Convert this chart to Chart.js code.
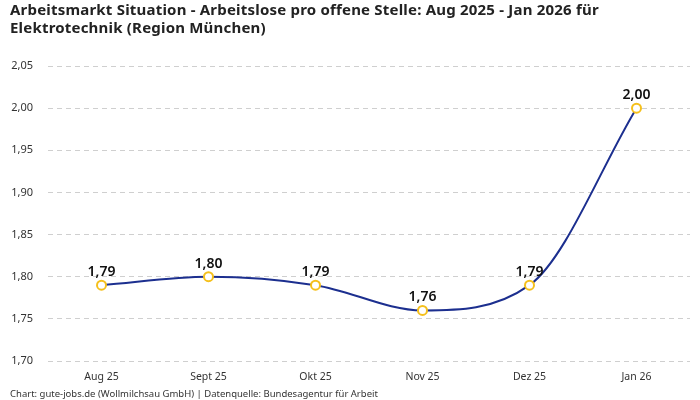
<!DOCTYPE html>
<html>
<head>
<meta charset="utf-8">
<script src="https://cdn.jsdelivr.net/npm/chart.js@4.4.0/dist/chart.umd.min.js"></script>
<style>
  html, body { margin: 0; padding: 0; background: #fff; }
  #wrap { width: 700px; height: 400px; }
</style>
</head>
<body>
<div id="wrap"><canvas id="chart"></canvas></div>
<script>
const months = ["Aug 25", "Sept 25", "Okt 25", "Nov 25", "Dez 25", "Jan 26"];
const ratio = [1.79, 1.80, 1.79, 1.76, 1.79, 2.00];
const titleLines = [
  "Arbeitsmarkt Situation - Arbeitslose pro offene Stelle: Aug 2025 - Jan 2026 für",
  "Elektrotechnik (Region München)"
];
const sourceText = "Chart: gute-jobs.de (Wollmilchsau GmbH) | Datenquelle: Bundesagentur für Arbeit";

const fontName = "'Noto Sans', sans-serif";
const fmt = (v) => v.toLocaleString("de-DE", { minimumFractionDigits: 2, maximumFractionDigits: 2 });

// title drawn by hand so the letter spacing can be tuned
const titleBlock = {
  id: "titleBlock",
  afterDraw(chart) {
    const ctx = chart.ctx;
    ctx.save();
    ctx.font = "bold 15px " + fontName;
    ctx.letterSpacing = "0.2px";
    ctx.fillStyle = "#222";
    ctx.textAlign = "left";
    ctx.textBaseline = "middle";
    titleLines.forEach((line, i) => {
      ctx.fillText(line, 10, 11 + i * 18);
    });
    ctx.restore();
  },
};

// draws value above each point
const valueLabels = {
  id: "valueLabels",
  afterDatasetsDraw(chart) {
    const ctx = chart.ctx;
    const meta = chart.getDatasetMeta(0);
    ctx.save();
    ctx.font = "600 14px " + fontName;
    ctx.fillStyle = "#111";
    ctx.textAlign = "center";
    ctx.textBaseline = "bottom";
    meta.data.forEach((pt, i) => {
      ctx.fillText(fmt(ratio[i]), pt.x, pt.y - 6);
    });
    ctx.restore();
  },
};

const ctx = document.getElementById("chart").getContext("2d");
new Chart(ctx, {
  type: "line",
  data: {
    labels: months,
    datasets: [
      {
        data: ratio,
        borderColor: "#1c2f8f",
        borderWidth: 2,
        cubicInterpolationMode: "monotone",
        pointRadius: 4.5,
        pointHoverRadius: 4.5,
        pointBackgroundColor: "#fff",
        pointBorderColor: "#f5c01c",
        pointBorderWidth: 2,
        fill: false,
      },
    ],
  },
  options: {
    responsive: true,
    maintainAspectRatio: false,
    animation: false,
    layout: { padding: { left: 10, right: 10, top: 66, bottom: 0 } },
    plugins: {
      legend: { display: false },
      tooltip: { enabled: false },
      title: { display: false },
      subtitle: {
        display: true,
        position: "bottom",
        text: sourceText,
        align: "start",
        color: "#333",
        font: { family: fontName, size: 9.5 },
        padding: { top: 3, bottom: 0 },
      },
    },
    scales: {
      x: {
        offset: true,
        grid: { display: false },
        border: { display: false },
        ticks: { color: "#333", font: { family: fontName, size: 10.5 }, padding: 2 },
      },
      y: {
        min: 1.7,
        max: 2.05,
        border: { display: false, dash: [5, 4] },
        grid: { color: "#cfcfcf", drawTicks: false },
        ticks: {
          stepSize: 0.05,
          color: "#333",
          font: { family: fontName, size: 11 },
          padding: 15,
          callback: (v) => fmt(v),
        },
        afterFit: (scale) => {
          scale.width = 38;
        },
      },
    },
  },
  plugins: [valueLabels, titleBlock],
});
</script>
</body>
</html>
